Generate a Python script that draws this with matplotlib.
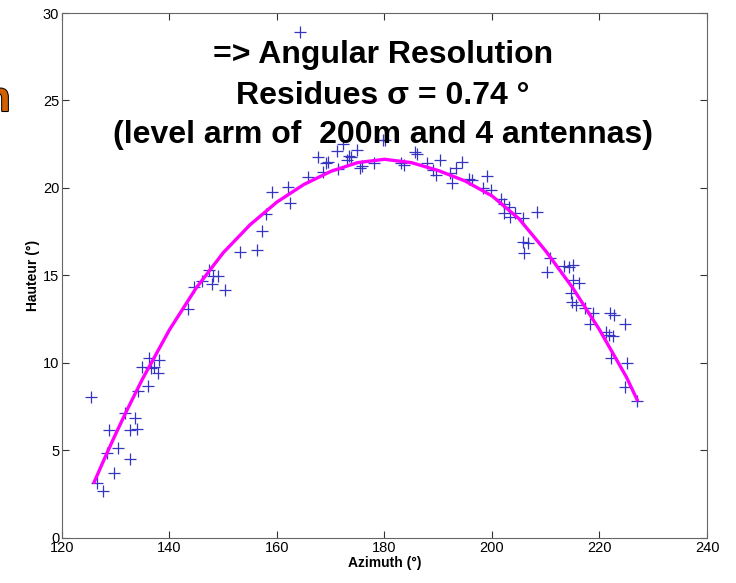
import matplotlib.pyplot as plt
import matplotlib.patheffects as pe

plt.rcParams['font.family'] = ['Liberation Sans', 'DejaVu Sans']

# measured points (azimuth, elevation)
azimuth = [125.4, 126.6, 127.6, 128.3, 128.8, 129.7, 130.5, 131.7, 132.6, 132.7,
           133.5, 134.0, 134.1, 134.9, 136.0, 136.2, 136.5, 137.2, 137.9, 138.1,
           143.5, 144.6, 146.1, 147.3, 148.0, 148.1, 149.0, 150.3, 153.2, 156.3,
           157.2, 158.0, 159.1, 162.1, 162.5, 164.3, 165.8, 167.7, 168.5, 169.2,
           169.5, 171.1, 171.4, 172.2, 173.0, 173.4, 173.7, 174.8, 175.4, 175.9,
           178.1, 179.7, 180.1, 183.0, 183.6, 185.6, 186.0, 188.0, 189.1, 189.6,
           190.4, 192.1, 192.5, 193.3, 194.5, 195.8, 196.3, 199.0, 198.3, 199.9,
           201.6, 202.2, 203.1, 202.3, 203.3, 204.3, 205.7, 208.4, 205.7, 206.7,
           206.0, 210.7, 210.3, 213.4, 214.4, 215.0, 215.1, 216.1, 214.7, 214.8,
           215.6, 217.3, 218.7, 218.2, 222.0, 222.7, 224.7, 221.3, 221.8, 222.5,
           222.1, 225.2, 224.7, 226.9]
hauteur = [8.06, 3.14, 2.69, 4.84, 6.17, 3.70, 5.16, 7.12, 4.53, 6.17,
           6.84, 6.21, 8.42, 9.75, 8.67, 10.30, 9.70, 9.79, 9.41, 10.17,
           13.07, 14.36, 14.70, 15.31, 14.51, 14.97, 14.97, 14.17, 16.36, 16.46,
           17.54, 18.50, 19.79, 20.04, 19.16, 28.90, 20.65, 21.75, 20.93, 21.41,
           21.50, 22.11, 21.07, 22.50, 21.60, 21.83, 21.75, 22.15, 21.15, 21.26,
           21.45, 22.74, 22.74, 21.40, 21.31, 22.07, 21.94, 21.41, 21.00, 20.74,
           21.58, 20.87, 20.30, 21.15, 21.48, 20.50, 20.44, 20.67, 19.98, 19.87,
           19.35, 19.09, 18.90, 18.55, 18.33, 18.59, 18.27, 18.65, 16.90, 16.84,
           16.30, 15.98, 15.22, 15.54, 15.50, 15.60, 14.74, 14.55, 13.98, 13.50,
           13.31, 13.13, 12.88, 12.21, 12.88, 12.74, 12.21, 11.79, 11.60, 11.54,
           10.30, 10.02, 8.65, 7.85]

# fitted trajectory
fit_az = [126, 128, 130, 132, 135, 140, 145, 150, 155, 160, 165, 170, 175,
          180, 185, 190, 195, 200, 205, 210, 215, 220, 225, 227]
fit_h = [3.2, 4.6, 5.95, 7.25, 9.1, 11.9, 14.3, 16.3, 17.9, 19.2, 20.2, 20.95,
         21.45, 21.64, 21.45, 21.0, 20.4, 19.55, 18.25, 16.4, 14.3, 11.9, 9.2, 7.9]

fig = plt.figure(figsize=(7.36, 5.83), dpi=100)
ax = fig.add_axes([0.0842, 0.0772, 0.8764, 0.9005])

ax.plot(azimuth, hauteur, '+', color='#3535c0', markersize=8, markeredgewidth=0.9)
ax.plot(fit_az, fit_h, color='#ff00ff', linewidth=2.4)

ax.set_xlim(120, 240)
ax.set_ylim(0, 30)
ax.set_xticks(range(120, 241, 20))
ax.set_yticks(range(0, 31, 5))
ax.tick_params(direction='in', length=5, top=True, right=True, labelsize=10.5,
               color='#333333', pad=2)
for s in ax.spines.values():
    s.set_color('#666666')

ax.set_xlabel('Azimuth (°)', fontsize=10, fontweight='bold', labelpad=1)
ax.set_ylabel('Hauteur (°)', fontsize=10, fontweight='bold', labelpad=2)

lines = ['=> Angular Resolution', 'Residues σ = 0.74 °', '(level arm of  200m and 4 antennas)']
ys = [55, 96, 135]
for t, y in zip(lines, ys):
    fig.text(383 / 736, 1 - y / 583, t, ha='center', va='center',
             fontsize=23, fontweight='bold')

fig.text(-15 / 736, 1 - 100 / 583, 'n', ha='left', va='center', fontsize=30,
         fontweight='bold', color='#d06000',
         path_effects=[pe.withStroke(linewidth=1.5, foreground='black')])

fig.savefig('out.png', dpi=100)
